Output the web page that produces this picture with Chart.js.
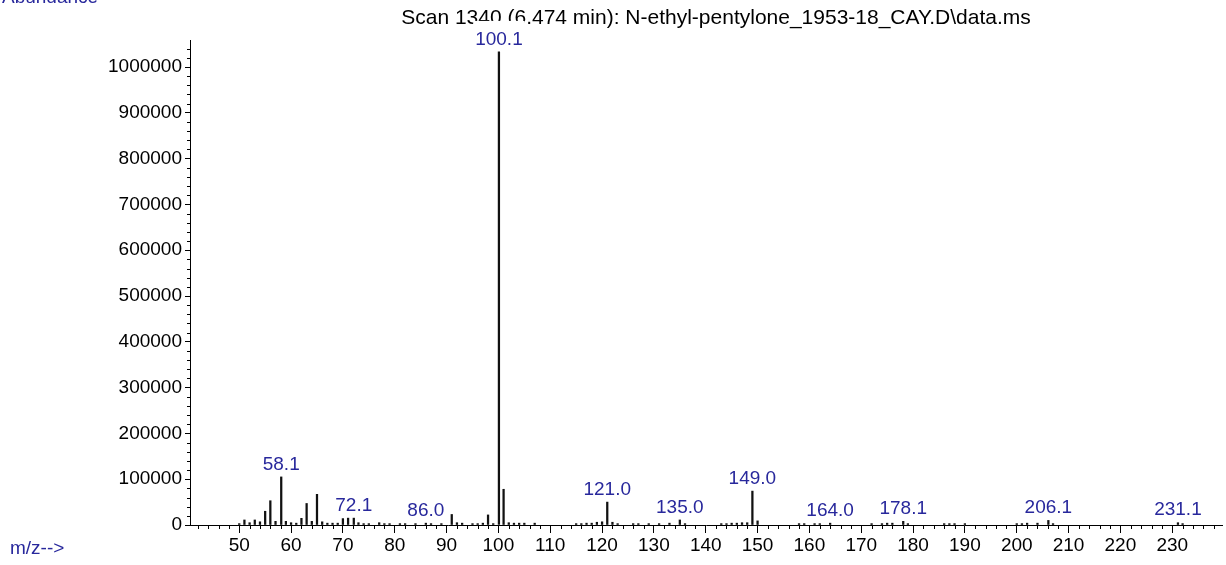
<!DOCTYPE html>
<html>
<head>
<meta charset="utf-8">
<script src="https://cdn.jsdelivr.net/npm/chart.js@4.4.1/dist/chart.umd.min.js"></script>
<style>
body{margin:0;background:#fff;}
#box{width:1226px;height:565px;position:relative;}
</style>
</head>
<body>
<div id="box"><canvas id="graficoMasas"></canvas></div>
<script>
// m/z values and their abundance
var mz = [50, 51, 52, 53, 54, 55, 56, 57, 58.1, 59, 60, 61, 62, 63, 64, 65, 66, 67, 68, 69,
          70, 71, 72.1, 73, 74, 75, 77, 78, 79, 81, 82, 84, 86.0, 87, 89, 91, 92, 93, 95, 96, 97, 98, 99,
          100.1, 101, 102, 103, 104, 105, 107, 115, 116, 117, 118, 119, 120, 121.0, 122, 123,
          126, 127, 129, 131, 133, 135.0, 136, 143, 144, 145, 146, 147, 148, 149.0, 150,
          158, 159, 161, 162, 164.0, 172, 174, 175, 176, 178.1, 179, 186, 187, 188, 190,
          200, 201, 202, 204, 206.1, 207, 231.1, 232];
var abundancia = [3000, 11000, 5000, 11000, 7000, 30000, 53000, 8000, 105000, 8000, 5000, 4000, 14600, 47000, 8000, 67000, 7000, 4000, 4000, 4000,
          14000, 15000, 15000, 5000, 3000, 3000, 5000, 3000, 3000, 3000, 3000, 3000, 4000, 3000, 3000, 23000, 5000, 4000, 3000, 3000, 4000, 22000, 3000,
          1033000, 78000, 5000, 4000, 4000, 4000, 4000, 3000, 3000, 4000, 4000, 6000, 7000, 50000, 6000, 3000,
          3000, 3000, 3000, 3000, 4000, 11000, 3000, 3000, 3000, 4000, 4000, 5000, 5000, 74000, 9000,
          3000, 3000, 3000, 3000, 4000, 3000, 3000, 4000, 4000, 8000, 3000, 3000, 3000, 3000, 3000,
          3000, 3000, 4000, 4000, 10000, 3000, 5000, 3000];
// peaks that carry an m/z label
var etiquetas = [58.1, 72.1, 86.0, 100.1, 121.0, 135.0, 149.0, 164.0, 178.1, 206.1, 231.1];

// tick labels
var xTicks = [50, 60, 70, 80, 90, 100, 110, 120, 130, 140, 150, 160, 170, 180, 190, 200, 210, 220, 230];
var yTicks = [0, 100000, 200000, 300000, 400000, 500000, 600000, 700000, 800000, 900000, 1000000];

var xMin = 40.5, xMax = 239.6;
var yMin = 0, yMax = 1059000;

var titulo = 'Scan 1340 (6.474 min): N-ethyl-pentylone_1953-18_CAY.D\\data.ms';
var azul = '#28289c';
var fuente = '"Liberation Sans", Arial, sans-serif';

Chart.defaults.font.family = fuente;

var extras = {
    id: 'extras',
    afterDraw: function(chart){
        var ctx = chart.ctx;
        var a = chart.chartArea;
        var sx = chart.scales.x, sy = chart.scales.y;
        ctx.save();
        ctx.strokeStyle = '#000';
        ctx.lineWidth = 1;
        // minor ticks x
        ctx.beginPath();
        for (var v = 42; v < xMax; v += 2) {
            if (v % 10 === 0) continue;
            var px = Math.round(sx.getPixelForValue(v)) + 0.5;
            ctx.moveTo(px, a.bottom);
            ctx.lineTo(px, a.bottom + 4);
        }
        // minor ticks y
        for (var w = 20000; w < yMax; w += 20000) {
            if (w % 100000 === 0) continue;
            var py = Math.round(sy.getPixelForValue(w)) + 0.5;
            ctx.moveTo(a.left - 3, py);
            ctx.lineTo(a.left, py);
        }
        ctx.stroke();

        // title
        ctx.fillStyle = '#000';
        ctx.font = '21px ' + fuente;
        ctx.textAlign = 'center';
        ctx.textBaseline = 'middle';
        ctx.fillText(titulo, 716, 18);

        // axis captions
        ctx.fillStyle = azul;
        ctx.font = '19px ' + fuente;
        ctx.textAlign = 'left';
        ctx.fillText('Abundance', 2, -2);
        ctx.fillText('m/z-->', 10, 549);

        // peak labels (white box behind, like the original)
        var meta = chart.getDatasetMeta(0);
        ctx.textAlign = 'center';
        ctx.textBaseline = 'bottom';
        for (var i = 0; i < mz.length; i++) {
            if (etiquetas.indexOf(mz[i]) < 0) continue;
            var el = meta.data[i];
            var txt = mz[i].toFixed(1);
            var tw = ctx.measureText(txt).width;
            var base = el.y - 4;
            ctx.fillStyle = '#fff';
            ctx.fillRect(el.x - tw / 2 - 2, base - 27, tw + 4, 27);
            ctx.fillStyle = azul;
            ctx.fillText(txt, el.x, base + 1);
        }
        ctx.restore();
    }
};

function crearEspectro(id){
    var ctx = document.getElementById(id);
    var puntos = [];
    for (var i = 0; i < mz.length; i++) {
        puntos.push({x: mz[i], y: abundancia[i]});
    }
    var grafico = new Chart(ctx, {
        type: 'bar',
        data: {
            datasets: [{
                data: puntos,
                backgroundColor: '#111',
                borderWidth: 0,
                barThickness: 1.6
            }]
        },
        options: {
            responsive: true,
            maintainAspectRatio: false,
            devicePixelRatio: 1,
            animation: false,
            layout: {padding: {top: 40, right: 4, left: 0, bottom: 0}},
            plugins: {legend: {display: false}, tooltip: {enabled: false}},
            scales: {
                x: {
                    type: 'linear',
                    offset: false,
                    min: xMin,
                    max: xMax,
                    afterFit: function(s){ s.height = 40; },
                    afterBuildTicks: function(s){ s.ticks = xTicks.map(function(v){ return {value: v}; }); },
                    ticks: {color: '#000', font: {size: 19}, padding: 1, maxRotation: 0, autoSkip: false,
                            callback: function(v){ return String(v); }},
                    grid: {drawOnChartArea: false, offset: false, color: '#000', tickLength: 8},
                    border: {color: '#000', width: 1}
                },
                y: {
                    min: yMin,
                    max: yMax,
                    afterFit: function(s){ s.width = 190; },
                    afterBuildTicks: function(s){ s.ticks = yTicks.map(function(v){ return {value: v}; }); },
                    ticks: {color: '#000', font: {size: 19}, padding: 3, autoSkip: false,
                            callback: function(v){ return String(v); }},
                    grid: {drawOnChartArea: false, color: '#000', tickLength: 5},
                    border: {color: '#000', width: 1}
                }
            }
        },
        plugins: [extras]
    });
}
crearEspectro('graficoMasas');
</script>
</body>
</html>
